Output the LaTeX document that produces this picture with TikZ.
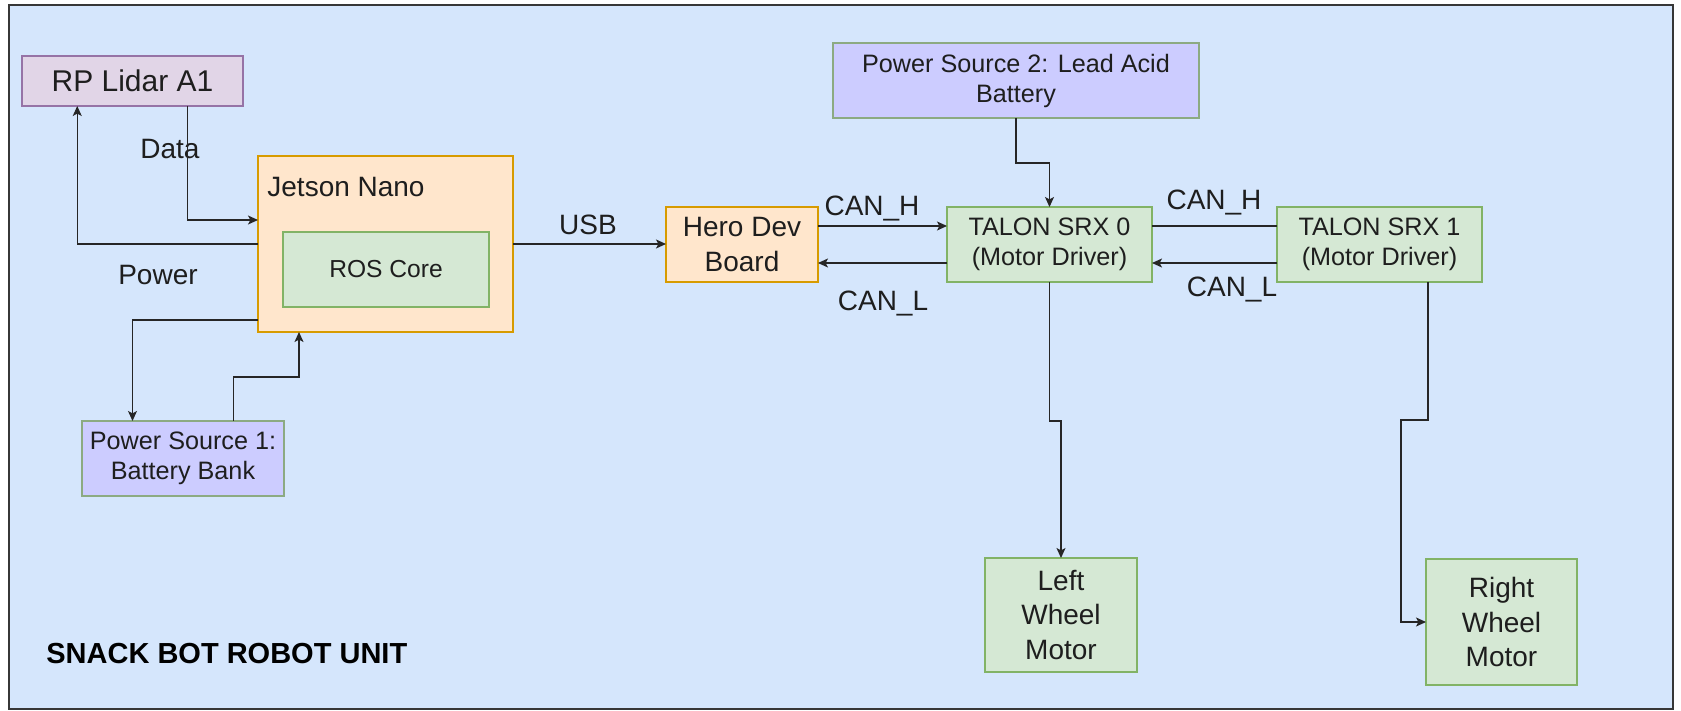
\documentclass[tikz,border=0pt]{standalone}
\usepackage{fontspec}
\setmainfont{Liberation Sans}
\usetikzlibrary{calc,arrows.meta}
\definecolor{bgblue}{RGB}{213,230,252}
\definecolor{frameC}{RGB}{55,55,55}
\definecolor{purpF}{RGB}{225,213,231}
\definecolor{purpD}{RGB}{150,115,166}
\definecolor{orF}{RGB}{255,230,204}
\definecolor{orD}{RGB}{215,155,0}
\definecolor{grF}{RGB}{213,232,212}
\definecolor{grD}{RGB}{130,179,102}
\definecolor{lavF}{RGB}{204,204,255}
\definecolor{lavD}{RGB}{140,170,130}
\definecolor{txt}{RGB}{30,30,30}
\begin{document}
\begin{tikzpicture}[x=0.5pt,y=-0.5pt,
  box/.style={draw, line width=0.6pt, inner sep=0pt, outer sep=0pt, align=center, text=txt},
  wh/.style 2 args={minimum width={#1*0.5pt}, minimum height={#2*0.5pt}},
  purp/.style={box, fill=purpF, draw=purpD},
  orng/.style={box, fill=orF, draw=orD},
  grn/.style={box, fill=grF, draw=grD},
  lav/.style={box, fill=lavF, draw=lavD},
  fA/.style={font=\fontsize{12.6}{15}\selectfont},
  fB/.style={font=\fontsize{14}{17.3}\selectfont},
  lbl/.style={font=\fontsize{14}{17}\selectfont, text=txt, inner sep=0pt, anchor=base},
  wire/.style={line width=0.6pt, draw=black!85},
  arr/.style={wire, -{Stealth[length=5pt,width=4.5pt,inset=1.2pt]}}]
\fill[white] (0,0) rectangle (1681,711);
\useasboundingbox (0,0) rectangle (1681,711);
\draw[fill=bgblue, draw=frameC, line width=1pt] (9,5) rectangle (1673,709);

% nodes
\node[purp, wh={221}{50}, font=\fontsize{15}{18}\selectfont] (lidar) at (132.5,81) {RP Lidar A1};
\node[orng, wh={255}{176}] (jetson) at (385.5,244) {};
\node[text=txt, inner sep=0pt, anchor=base west, font=\fontsize{14}{17}\selectfont] (jtitle) at (267,197) {Jetson Nano};
\node[grn, wh={206}{75}, font=\fontsize{12.3}{15}\selectfont] (ros) at (386,269.5) {ROS Core};
\node[lav, wh={202}{75}, fA] (ps1) at (183,458.5) {Power Source 1:\\Battery Bank};
\node[orng, wh={152}{75}, fB] (hero) at (742,244.5) {Hero Dev\\Board};
\node[lav, wh={366}{75}, fA] (ps2) at (1016,80.5) {Power Source 2: Lead Acid\\Battery};
\node[grn, wh={205}{75}, fA] (tal0) at (1049.5,244.5) {TALON SRX 0\\(Motor Driver)};
\node[grn, wh={205}{75}, fA] (tal1) at (1379.5,244.5) {TALON SRX 1\\(Motor Driver)};
\node[grn, wh={152}{114}, fB] (lw) at (1061,615) {Left\\Wheel\\Motor};
\node[grn, wh={151}{126}, fB] (rw) at (1501.5,622) {Right\\Wheel\\Motor};

% labels
\node[lbl] (lData) at (170,159) {Data};
\node[lbl] (lPower) at (158,285) {Power};
\node[lbl] (lUSB) at (588,235) {USB};
\node[lbl] (lCH1) at (872,216) {CAN\_H};
\node[lbl] (lCL1) at (883,310) {CAN\_L};
\node[lbl] (lCH2) at (1214,210) {CAN\_H};
\node[lbl] (lCL2) at (1232,297) {CAN\_L};
\node[lbl, anchor=base west, font=\bfseries\fontsize{14.5}{17}\selectfont, text=black] (title) at (46,663) {SNACK BOT ROBOT UNIT};

% connectors
\draw[arr] (jetson.west) -| ($(lidar.south west)!.25!(lidar.south east)$);
\draw[arr] ($(lidar.south west)!.75!(lidar.south east)$) |- ($(jetson.west)+(0,-24)$);
\draw[arr] ($(jetson.west)+(0,76)$) -| ($(ps1.north west)!.25!(ps1.north east)$);
\draw[arr] ($(ps1.north west)!.75!(ps1.north east)$) -- ++(0,-44) -| ($(jetson.south west)+(41,0)$);
\draw[arr] (jetson.east) -- (jetson.east -| hero.west);
\draw[arr] ($(hero.east)+(0,-18.5)$) -- ($(tal0.west)+(0,-18.5)$);
\draw[arr] ($(tal0.west)+(0,18.5)$) -- ($(hero.east)+(0,18.5)$);
\draw[wire] ($(tal0.east)+(0,-18.5)$) -- ($(tal1.west)+(0,-18.5)$);
\draw[arr] ($(tal1.west)+(0,18.5)$) -- ($(tal0.east)+(0,18.5)$);
\draw[arr] (ps2.south) -- ++(0,45) -| (tal0.north);
\draw[arr] (tal0.south) -- ++(0,139) -| (lw.north);
\draw[arr] ($(tal1.south west)+(151,0)$) -- ++(0,138) -- ++(-27,0) |- (rw.west);
\end{tikzpicture}
\end{document}
